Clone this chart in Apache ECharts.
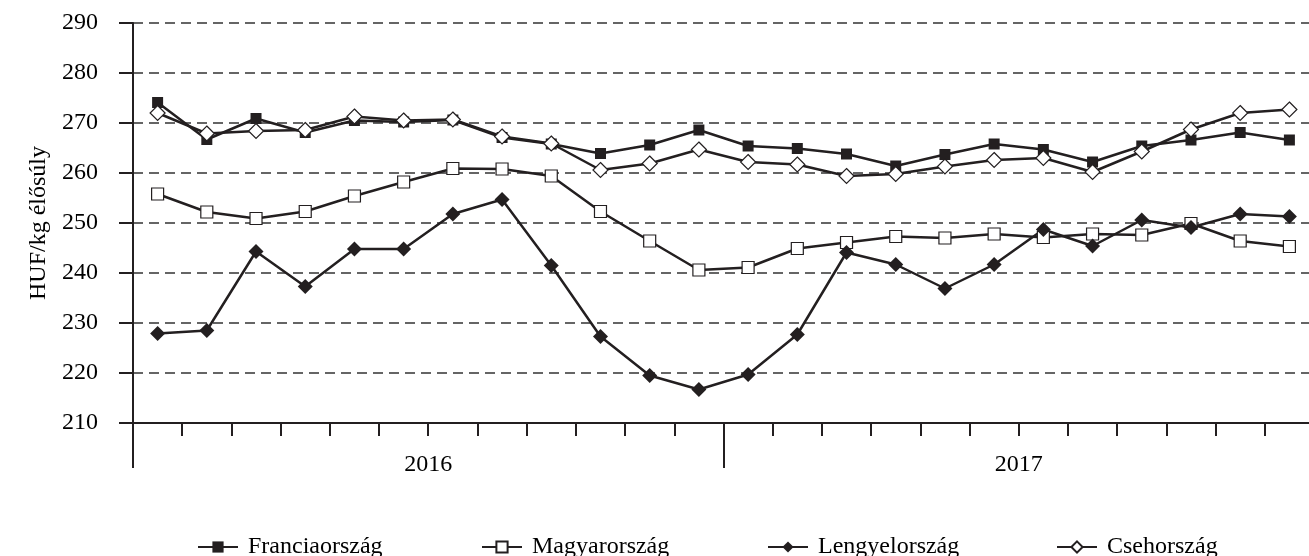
<!DOCTYPE html>
<html>
<head>
<meta charset="utf-8">
<script src="https://cdn.jsdelivr.net/npm/echarts@6/dist/echarts.min.js"></script>
<style>
  html, body { margin: 0; padding: 0; background: #fff; }
  #chart { width: 1309px; height: 556px; }
</style>
</head>
<body>
<div id="chart"></div>
<script>
// havi adatok 2016-01 .. 2017-12
const months = [
  '2016-01', '2016-02', '2016-03', '2016-04', '2016-05', '2016-06',
  '2016-07', '2016-08', '2016-09', '2016-10', '2016-11', '2016-12',
  '2017-01', '2017-02', '2017-03', '2017-04', '2017-05', '2017-06',
  '2017-07', '2017-08', '2017-09', '2017-10', '2017-11', '2017-12'
]
const years = ['2016', '2017']

const francia = [274.1, 266.7, 270.9, 268.1, 270.5, 270.2, 270.6, 267.1, 265.8, 263.9, 265.6, 268.6,
  265.4, 264.9, 263.8, 261.4, 263.7, 265.8, 264.7, 262.2, 265.4, 266.6, 268.1, 266.6]
const magyar = [255.8, 252.2, 250.9, 252.3, 255.4, 258.2, 260.9, 260.8, 259.4, 252.3, 246.4, 240.6,
  241.1, 244.9, 246.1, 247.3, 247.0, 247.8, 247.1, 247.8, 247.6, 249.9, 246.4, 245.3]
const lengyel = [227.9, 228.5, 244.3, 237.3, 244.8, 244.8, 251.8, 254.7, 241.5, 227.3, 219.5, 216.7,
  219.7, 227.7, 244.1, 241.7, 236.9, 241.7, 248.7, 245.4, 250.6, 249.1, 251.8, 251.3]
const cseh = [272.0, 267.9, 268.4, 268.6, 271.3, 270.5, 270.7, 267.3, 265.9, 260.6, 261.9, 264.7,
  262.2, 261.7, 259.4, 259.8, 261.3, 262.6, 263.0, 260.2, 264.3, 268.7, 272.0, 272.7]

const ink = '#231f20'
const font = 'Liberation Serif'

const chart = echarts.init(document.getElementById('chart'))

const lineSeries = (name, data, symbol, size, filled) => ({
  name,
  type: 'line',
  xAxisIndex: 0,
  data,
  symbol,
  symbolSize: size,
  showAllSymbol: true,
  lineStyle: { color: ink, width: 2.5 },
  itemStyle: filled
    ? { color: ink, borderColor: ink, borderWidth: 0 }
    : { color: '#fff', borderColor: ink, borderWidth: 1.2 },
  emphasis: { disabled: true },
  animation: false
})

const legendAt = (name, left) => ({
  data: [name],
  left,
  top: 530,
  itemWidth: 40,
  itemHeight: 14,
  textStyle: { fontFamily: font, fontSize: 24, color: '#000', padding: [0, 0, 0, 5] }
})

const option = {
  backgroundColor: '#fff',
  grid: { left: 133, top: 23, width: 1181, height: 400, outerBoundsMode: 'none', containLabel: false },
  legend: [
    legendAt('Franciaország', 192),
    legendAt('Magyarország', 476),
    legendAt('Lengyelország', 762),
    legendAt('Csehország', 1051)
  ],
  xAxis: [
    {
      type: 'category',
      data: months,
      boundaryGap: true,
      axisLine: { show: true, lineStyle: { color: ink, width: 2 } },
      axisTick: { show: true, interval: 0, length: 13, lineStyle: { color: ink, width: 2 } },
      axisLabel: { show: false }
    },
    {
      type: 'category',
      data: years,
      position: 'bottom',
      boundaryGap: true,
      axisLine: { show: true, lineStyle: { color: ink, width: 2 } },
      axisTick: { show: true, interval: 0, length: 45, lineStyle: { color: ink, width: 2 } },
      axisLabel: { interval: 0, margin: 30, fontFamily: font, fontSize: 24, color: '#000' }
    }
  ],
  yAxis: {
    type: 'value',
    min: 210,
    max: 290,
    interval: 10,
    name: 'HUF/kg élősúly',
    nameLocation: 'middle',
    nameGap: 82,
    nameRotate: 90,
    nameTextStyle: { fontFamily: font, fontSize: 24, color: '#000' },
    axisLine: { show: true, lineStyle: { color: ink, width: 2 } },
    axisTick: { show: true, length: 14, lineStyle: { color: ink, width: 2 } },
    axisLabel: { margin: 35, fontFamily: font, fontSize: 24, color: '#000' },
    splitLine: { lineStyle: { color: '#333', width: 1.5, type: [10, 6] } }
  },
  series: [
    lineSeries('Franciaország', francia, 'rect', 11, true),
    lineSeries('Magyarország', magyar, 'rect', 12, false),
    lineSeries('Lengyelország', lengyel, 'diamond', 15, true),
    lineSeries('Csehország', cseh, 'diamond', 15, false)
  ]
}

chart.setOption(option)
</script>
</body>
</html>
